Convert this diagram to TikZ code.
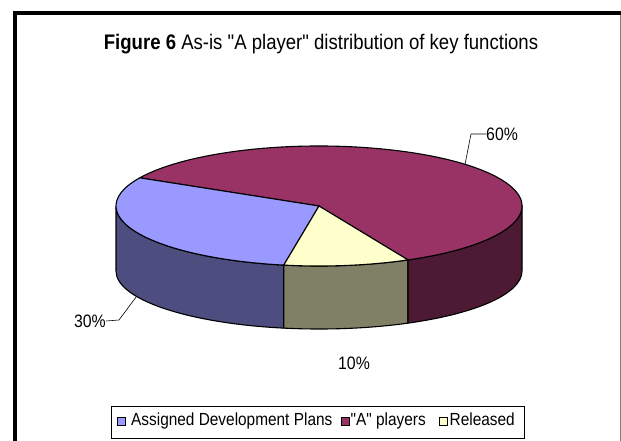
\documentclass[tikz,border=0pt]{standalone}
\usepackage{fontspec}
\setmainfont{Liberation Sans}[Ligatures=TeXOff]
\usetikzlibrary{calc}
\definecolor{devtop}{RGB}{153,153,255}
\definecolor{devside}{RGB}{77,77,128}
\definecolor{aptop}{RGB}{153,51,102}
\definecolor{apside}{RGB}{77,26,51}
\definecolor{reltop}{RGB}{255,255,204}
\definecolor{relside}{RGB}{128,128,102}
\newcommand{\narrow}[1]{\scalebox{0.88}[1]{#1}}
\begin{document}
\begin{tikzpicture}[x=1pt,y=1pt,
    slice/.style={draw=black,line width=1.1pt,line join=round},
    leader/.style={draw=black,line width=0.6pt},
    pct/.style={inner sep=0pt,font=\fontsize{18}{20}\selectfont},
    legtext/.style={inner sep=0pt,anchor=base west,font=\fontsize{17.5}{20}\selectfont},
    legkey/.style={draw=black,line width=0.8pt,minimum size=8pt,inner sep=0pt}]
  \useasboundingbox (0,0) rectangle (621,-441);
  \fill[white] (0,0) rectangle (621,-441);
  % chart frame
  \draw[line width=4pt] (13,-13.5) -- (621,-13.5);
  \draw[line width=3.5pt] (15,-11.5) -- (15,-441);
  \draw[gray,line width=1pt] (620.5,-15) -- (620.5,-441);
  % title
  \node (title) at (321,-44) {\narrow{\fontsize{21.1}{24}\selectfont\textbf{Figure 6} As-is "A player" distribution of key functions}};
  % pie geometry: top ellipse centre (319,-206), bottom ellipse centre (319,-271)
  \coordinate (c) at (319,-206);
  \coordinate (b) at (319,-271);
  % side walls
  \path[slice,fill=devside] ($(c)+(180:203 and 60)$) arc[start angle=180,end angle=260,x radius=203,y radius=60]
     -- ($(b)+(260:203 and 58)$) arc[start angle=260,end angle=180,x radius=203,y radius=58] -- cycle;
  \path[slice,fill=relside] ($(c)+(260:203 and 60)$) arc[start angle=260,end angle=296,x radius=203,y radius=60]
     -- ($(b)+(296:203 and 58)$) arc[start angle=296,end angle=260,x radius=203,y radius=58] -- cycle;
  \path[slice,fill=apside] ($(c)+(296:203 and 60)$) arc[start angle=296,end angle=360,x radius=203,y radius=60]
     -- ($(b)+(360:203 and 58)$) arc[start angle=360,end angle=296,x radius=203,y radius=58] -- cycle;
  % top faces
  \path[slice,fill=aptop] (c) -- ($(c)+(296:203 and 60)$) arc[start angle=296,end angle=512,x radius=203,y radius=60] -- cycle;
  \path[slice,fill=devtop] (c) -- ($(c)+(152:203 and 60)$) arc[start angle=152,end angle=260,x radius=203,y radius=60] -- cycle;
  \path[slice,fill=reltop] (c) -- ($(c)+(260:203 and 60)$) arc[start angle=260,end angle=296,x radius=203,y radius=60] -- cycle;
  % data labels
  \coordinate (ap) at ($(c)+(44:203 and 60)$);
  \coordinate (apk) at (471,-134);
  \node[pct,anchor=west] (lap) at (486,-134) {\narrow{60\%}};
  \draw[leader] (ap) -- (apk) -- (lap.west);
  \coordinate (dev) at ($(b)+(206:203 and 58)$);
  \coordinate (devk) at (119,-320);
  \node[pct,anchor=east] (ldev) at (106,-321) {\narrow{30\%}};
  \draw[leader] (dev) -- (devk) -- (ldev.east);
  \node[pct] (lrel) at (354,-363) {\narrow{10\%}};
  % legend
  \node[draw=black,line width=0.8pt,fill=white,minimum width=413pt,minimum height=32pt,inner sep=0pt] (legend) at (317.5,-422) {};
  \node[legkey,fill=devtop] (k1) at (121,-421) {};
  \node[legtext] (t1) at (131,-425.5) {\narrow{Assigned Development Plans}};
  \node[legkey,fill=aptop] (k2) at (345,-421) {};
  \node[legtext] (t2) at (350.5,-425.5) {\narrow{"A" players}};
  \node[legkey,fill=reltop] (k3) at (443,-421) {};
  \node[legtext] (t3) at (449.5,-425.5) {\narrow{Released}};
\end{tikzpicture}
\end{document}
